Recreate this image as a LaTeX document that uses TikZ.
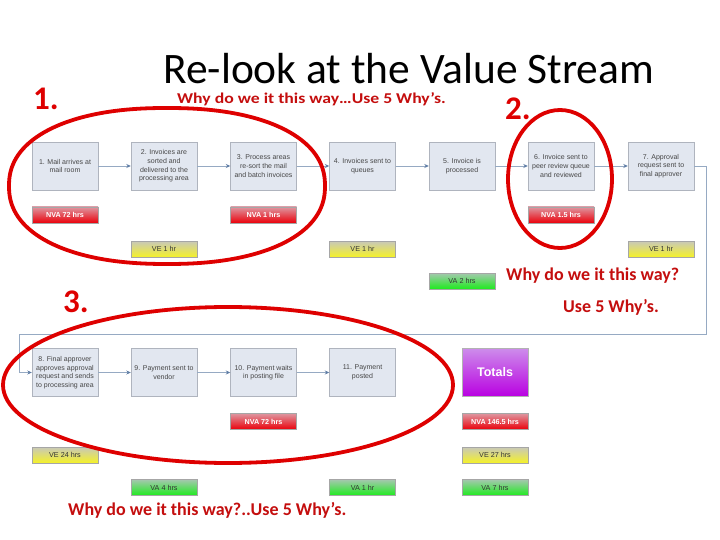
\documentclass[tikz,border=0pt]{standalone}
\usepackage{fontspec}
\setmainfont{Carlito}
\newfontfamily\arialf{Liberation Sans}
\usetikzlibrary{arrows.meta,shadings}
\definecolor{boxfill}{RGB}{226,231,240}
\definecolor{boxline}{RGB}{175,180,190}
\definecolor{flowc}{RGB}{150,170,195}
\definecolor{headc}{RGB}{95,125,165}
\definecolor{ringred}{RGB}{222,0,0}
\definecolor{txtred}{RGB}{196,14,14}
\definecolor{boxtxt}{RGB}{70,70,70}
\tikzset{
  proc/.style={draw=boxline, fill=boxfill, minimum width=66pt, minimum height=48pt,
    inner sep=1pt, align=center, font=\arialf\fontsize{7}{8.6}\selectfont, text=boxtxt},
  tag/.style={draw=black!35, minimum width=66pt, minimum height=16pt, inner sep=0pt,
    font=\arialf\fontsize{7.2}{8}\selectfont},
  nva/.style={tag, top color={rgb,255:red,222;green,150;blue,160}, bottom color={rgb,255:red,235;green,0;blue,10}, text=white, font=\arialf\bfseries\fontsize{7.2}{8}\selectfont},
  ve/.style={tag, top color={rgb,255:red,200;green,200;blue,185}, bottom color={rgb,255:red,245;green,242;blue,40}, text=black!80},
  va/.style={tag, top color={rgb,255:red,165;green,200;blue,175}, bottom color={rgb,255:red,30;green,235;blue,30}, text=black!80},
  flow/.style={draw=flowc, line width=0.8pt, -{Stealth[length=4.5pt,width=4pt,color=headc]}},
  ring/.style={draw=ringred, line width=3.8pt},
  txt/.style={inner sep=0pt, anchor=base west},
  bignum/.style={txt, font=\bfseries\fontsize{33}{33}\selectfont, text=ringred},
  why/.style={txt, font=\bfseries\fontsize{18}{18}\selectfont, text=txtred},
}
\begin{document}
\begin{tikzpicture}[x=1pt,y=-1pt]
\useasboundingbox[fill=white] (0,0) rectangle (720,540);
% titles
\node[txt, font=\fontsize{43.5}{44}\selectfont] (title) at (163,84) {Re-look at the Value Stream};
\node[txt, font=\bfseries\fontsize{15}{15}\selectfont, text=txtred] (sub) at (177,104) {\scalebox{1.18}[1]{Why do we it this way…Use 5 Why’s.}};
\node[bignum] (n1) at (33,110) {1.};
\node[bignum] (n2) at (505,120) {2.};
\node[bignum] (n3) at (63,312) {3.};
\node[why] (w1) at (506,280) {Why do we it this way?};
\node[why] (w2) at (563,312) {Use 5 Why’s.};
\node[why] (w3) at (68,515) {Why do we it this way?..Use 5 Why’s.};
% row 1
\node[proc] (b1) at (65,166) {1. Mail arrives at\\mail room};
\node[proc] (b2) at (164,166) {2. Invoices are\\sorted and\\delivered to the\\processing area};
\node[proc] (b3) at (263.5,166) {3. Process areas\\re-sort the mail\\and batch invoices};
\node[proc] (b4) at (362.5,166) {4. Invoices sent to\\queues};
\node[proc] (b5) at (462,166) {5. Invoice is\\processed};
\node[proc] (b6) at (561,166) {6. Invoice sent to\\peer review queue\\and reviewed};
\node[proc] (b7) at (661,166) {7. Approval\\request sent to\\final approver};
\node[nva] (t1) at (65,215) {NVA 72 hrs};
\node[nva] (t3) at (263.5,215) {NVA 1 hrs};
\node[nva] (t6) at (561,215) {NVA 1.5 hrs};
\node[ve] (t2) at (164,249) {VE 1 hr};
\node[ve] (t4) at (362.5,249) {VE 1 hr};
\node[ve] (t7) at (661,249) {VE 1 hr};
\node[va] (t5) at (462,281) {VA 2 hrs};
% row 2
\node[proc] (b8) at (65,372.5) {8. Final approver\\approves approval\\request and sends\\to processing area};
\node[proc] (b9) at (164,372.5) {9. Payment sent to\\vendor};
\node[proc] (b10) at (263.5,372.5) {10. Payment waits\\in posting file};
\node[proc] (b11) at (362.5,372.5) {11. Payment\\posted};
\node[draw=black!30, minimum width=66pt, minimum height=48pt, top color={rgb,255:red,205;green,140;blue,235}, bottom color={rgb,255:red,185;green,0;blue,225}, text=white, font=\arialf\bfseries\fontsize{12.5}{13}\selectfont] (tot) at (495,372.5) {Totals};
\node[nva] (t10) at (263.5,421.5) {NVA 72 hrs};
\node[nva] (tn) at (495,421.5) {NVA 146.5 hrs};
\node[ve] (t8) at (65,455) {VE 24 hrs};
\node[ve] (tv) at (495,455) {VE 27 hrs};
\node[va] (t9) at (164,487.5) {VA 4 hrs};
\node[va] (t11) at (362.5,487.5) {VA 1 hr};
\node[va] (ta) at (495,487.5) {VA 7 hrs};
% connectors
\draw[flow] (b1) -- (b2);
\draw[flow] (b2) -- (b3);
\draw[flow] (b3) -- (b4);
\draw[flow] (b4) -- (b5);
\draw[flow] (b5) -- (b6);
\draw[flow] (b6) -- (b7);
\coordinate (c1) at (706,166);
\coordinate (c2) at (706,334);
\coordinate (c3) at (19,334);
\coordinate (c4) at (19,372.5);
\draw[flow] (b7.east) -- (c1) -- (c2) -- (c3) -- (c4) -- (b8.west);
\draw[flow] (b8) -- (b9);
\draw[flow] (b9) -- (b10);
\draw[flow] (b10) -- (b11);
% red rings
\draw[ring] plot[domain=0:357, samples=120, smooth cycle]
  ({167+158*cos(\x)*pow(abs(cos(\x))+0.00001,-0.11)}, {186+78*sin(\x)*pow(abs(sin(\x))+0.00001,-0.11)});
\draw[ring] (560,179) ellipse [x radius=52, y radius=69];
\draw[ring] (228,385) ellipse [x radius=225, y radius=78];
\end{tikzpicture}
\end{document}
